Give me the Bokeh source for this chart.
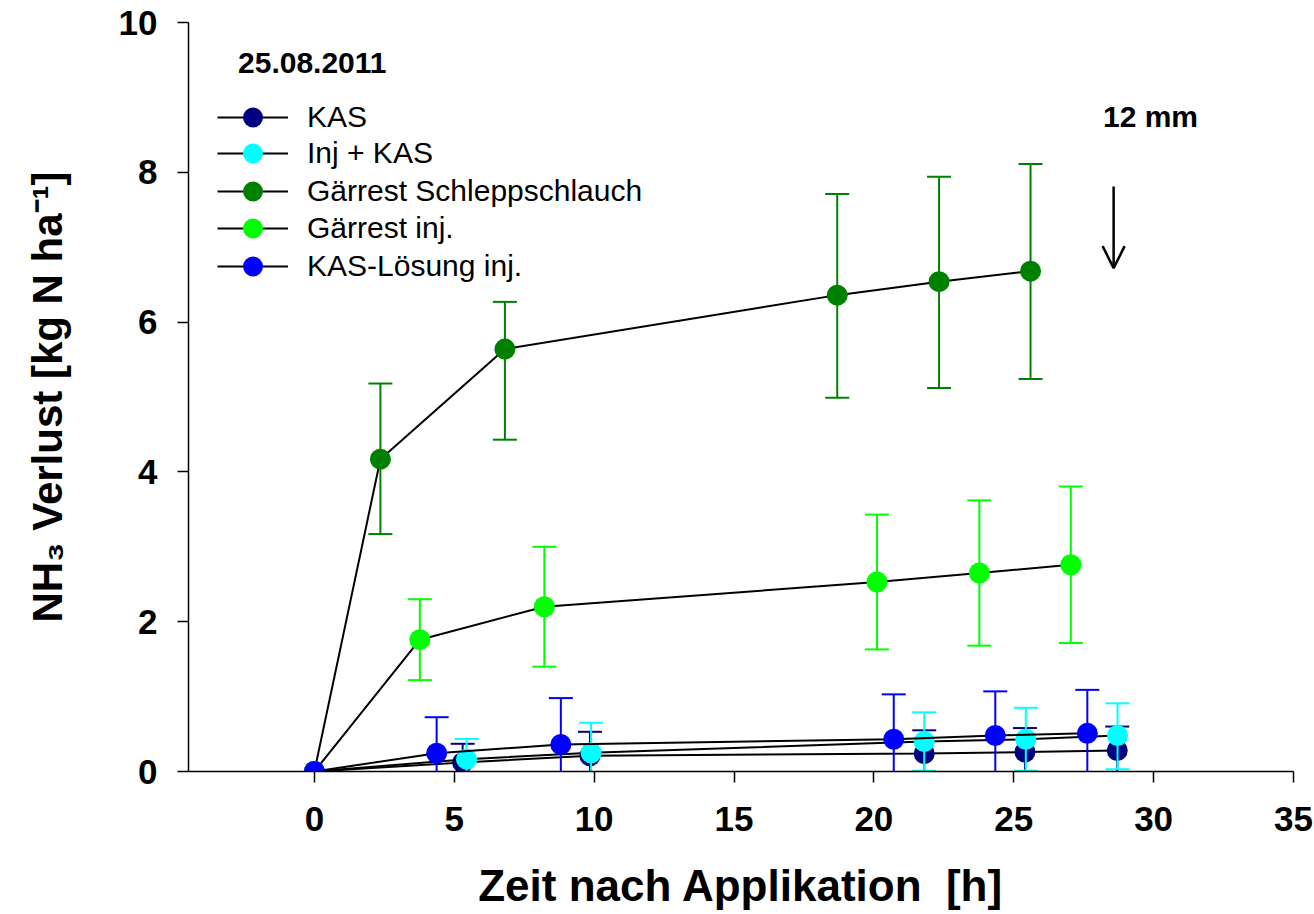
import numpy as np
from bokeh.plotting import figure
from bokeh.models import (Range1d, FixedTicker, Label, Arrow, OpenHead, Legend,
                          LegendItem, ColumnDataSource)
from bokeh.embed import file_html
from bokeh.resources import INLINE

# ---------------- data ----------------
series_names = ["KAS", "Inj + KAS", "Gärrest Schleppschlauch", "Gärrest inj.", "KAS-Lösung inj."]
series_colors = ["#000080", "#00FFFF", "#008000", "#00FF00", "#0000FF"]

time_kas = [0, 5.3, 9.85, 21.8, 25.4, 28.7]
nh3_kas = [0, 0.12, 0.21, 0.24, 0.26, 0.28]
kas_err_up = [0, 0.25, 0.32, 0.31, 0.32, 0.32]
kas_err_dn = [0, 0.25, 0.32, 0.31, 0.32, 0.32]

time_injkas = [0, 5.44, 9.89, 21.8, 25.43, 28.71]
nh3_injkas = [0, 0.165, 0.25, 0.40, 0.43, 0.48]
injkas_err_up = [0, 0.27, 0.40, 0.39, 0.42, 0.43]
injkas_err_dn = [0, 0.27, 0.40, 0.39, 0.42, 0.45]

time_gs = [0, 2.36, 6.81, 18.69, 22.33, 25.6]
nh3_gs = [0, 4.17, 5.64, 6.36, 6.54, 6.68]
gs_err_up = [0, 1.01, 0.63, 1.35, 1.40, 1.43]
gs_err_dn = [0, 1.00, 1.21, 1.37, 1.42, 1.44]

time_gi = [0, 3.77, 8.22, 20.11, 23.77, 27.04]
nh3_gi = [0, 1.76, 2.20, 2.53, 2.65, 2.76]
gi_err_up = [0, 0.54, 0.80, 0.90, 0.97, 1.045]
gi_err_dn = [0, 0.54, 0.80, 0.90, 0.97, 1.045]

time_kl = [0, 4.37, 8.81, 20.71, 24.34, 27.63]
nh3_kl = [0, 0.245, 0.36, 0.43, 0.48, 0.51]
kl_err_up = [0, 0.48, 0.62, 0.60, 0.59, 0.58]
kl_err_dn = [0, 0.48, 0.62, 0.60, 0.59, 0.58]

x_ticks = [0, 5, 10, 15, 20, 25, 30, 35]
y_ticks = [0, 2, 4, 6, 8, 10]

series = [
    (time_kas, nh3_kas, kas_err_up, kas_err_dn),
    (time_injkas, nh3_injkas, injkas_err_up, injkas_err_dn),
    (time_gs, nh3_gs, gs_err_up, gs_err_dn),
    (time_gi, nh3_gi, gi_err_up, gi_err_dn),
    (time_kl, nh3_kl, kl_err_up, kl_err_dn),
]

# ---------------- figure ----------------
FONT = "Liberation Sans"
p = figure(width=1314, height=914, output_backend="svg", toolbar_location=None,
           x_range=Range1d(-4.5, 35), y_range=Range1d(0, 10),
           min_border_left=188, min_border_right=21, min_border_top=22,
           min_border_bottom=143)
p.outline_line_color = None
p.xgrid.visible = False
p.ygrid.visible = False
p.background_fill_color = "white"
p.border_fill_color = "white"

for ax, ticks in ((p.xaxis[0], x_ticks), (p.yaxis[0], y_ticks)):
    ax.ticker = FixedTicker(ticks=ticks)
    ax.axis_line_width = 1.5
    ax.axis_line_color = "black"
    ax.major_tick_line_width = 1.5
    ax.major_tick_line_color = "black"
    ax.major_tick_out = 11
    ax.major_tick_in = 0
    ax.minor_tick_line_color = None
    ax.major_label_text_font = FONT
    ax.major_label_text_font_style = "bold"
    ax.major_label_text_font_size = "35px"
    ax.major_label_text_color = "black"
    ax.axis_label_text_font = FONT
    ax.axis_label_text_font_style = "bold"
    ax.axis_label_text_color = "black"

p.yaxis[0].major_label_standoff = 20
p.xaxis[0].major_label_standoff = 24
p.xaxis[0].axis_label = "Zeit nach Applikation\u00a0 [h]"
p.xaxis[0].axis_label_text_font_size = "44px"
p.xaxis[0].axis_label_standoff = 27
p.yaxis[0].axis_label = "NH\u2083 Verlust [kg N ha\u207b\u00b9]"
p.yaxis[0].axis_label_text_font_size = "42px"
p.yaxis[0].axis_label_standoff = 45

legend_row_y = [629, 593, 555, 518, 480]  # legend row offsets (px from frame bottom)
for (xs, ys, up, dn), name, color, ly in zip(series, series_names, series_colors, legend_row_y):
    xs = np.asarray(xs, float)
    ys = np.asarray(ys, float)
    up = np.asarray(up, float)
    dn = np.asarray(dn, float)
    r_line = p.line(xs, ys, line_color="black", line_width=2)
    m = (up > 0) | (dn > 0)
    err_src = ColumnDataSource(dict(x=xs[m], lo=ys[m] - dn[m], hi=ys[m] + up[m]))
    p.segment(x0="x", y0="lo", x1="x", y1="hi", source=err_src,
              line_color=color, line_width=2)
    p.scatter(x="x", y="hi", source=err_src, marker="dash", size=24,
              line_color=color, line_width=2)
    p.scatter(x="x", y="lo", source=err_src, marker="dash", size=24,
              line_color=color, line_width=2)
    r_pts = p.scatter(xs, ys, marker="circle", size=21, fill_color=color,
                      line_color=None)
    lg = Legend(items=[LegendItem(label=name, renderers=[r_line, r_pts])],
                location=(29, ly), glyph_width=71, glyph_height=50, spacing=0,
                label_standoff=19, padding=0, margin=0,
                border_line_color=None, background_fill_alpha=0,
                label_text_font=FONT, label_text_font_size="30px",
                label_text_color="black")
    p.add_layout(lg, "center")

# annotations
date_pos = (-2.73, 9.46)
rain_pos = (28.19, 8.745)
arrow_x, arrow_top, arrow_tip = 28.57, 7.81, 6.72

p.add_layout(Label(x=date_pos[0], y=date_pos[1], text="25.08.2011",
                   text_font=FONT, text_font_style="bold", text_font_size="30px",
                   text_color="black", text_baseline="alphabetic"))
p.add_layout(Label(x=rain_pos[0], y=rain_pos[1], text="12 mm",
                   text_font=FONT, text_font_style="bold", text_font_size="30px",
                   text_color="black", text_baseline="alphabetic"))
p.add_layout(Arrow(x_start=arrow_x, y_start=arrow_top, x_end=arrow_x, y_end=arrow_tip,
                   line_width=2.5, line_color="black",
                   end=OpenHead(size=22, line_width=2.5, line_color="black")))

open("out.html", "w").write(file_html(p, INLINE))
